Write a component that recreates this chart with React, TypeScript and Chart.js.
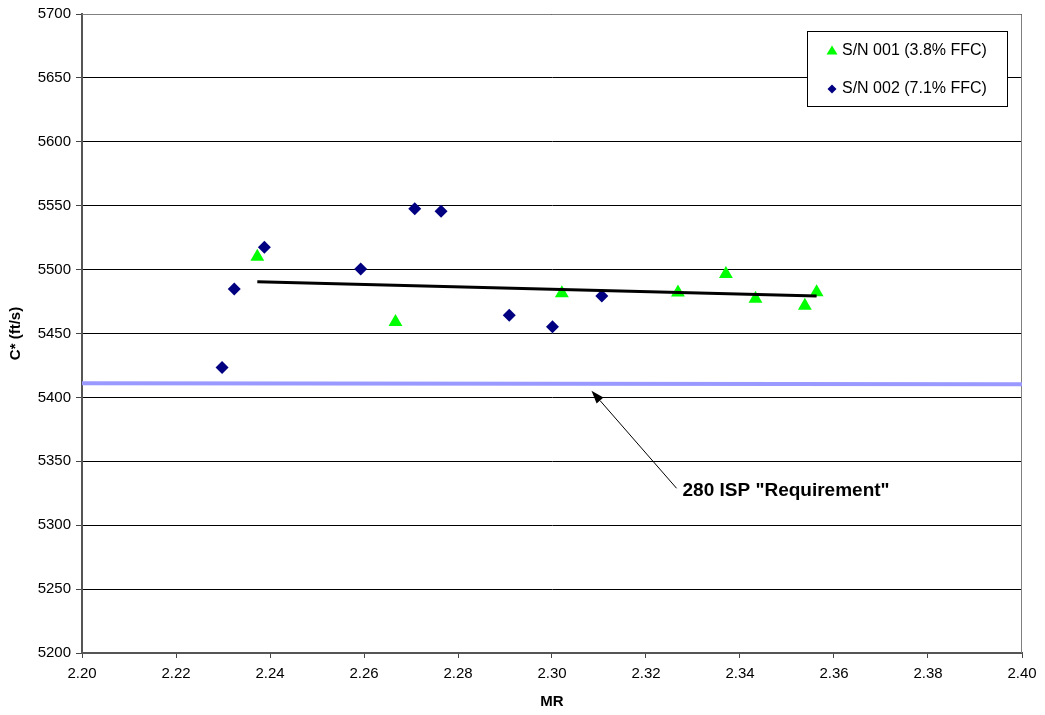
import React, { useEffect, useRef } from "react";
import { Chart, registerables } from "chart.js";

Chart.register(...registerables);

// S/N 001 (3.8% FFC) — green triangles
const sn001MR = [2.2373, 2.2667, 2.3021, 2.3268, 2.337, 2.3433, 2.3538, 2.3563];
const sn001Cstar = [5510, 5459, 5481.5, 5482, 5496.6, 5477.2, 5471.8, 5482.2];

// S/N 002 (7.1% FFC) — navy diamonds
const sn002MR = [2.2298, 2.2324, 2.2388, 2.2593, 2.2708, 2.2764, 2.2909, 2.3001, 2.3106];
const sn002Cstar = [5423.3, 5484.8, 5517.4, 5500.5, 5547.7, 5545.6, 5464.2, 5455.3, 5479.3];

// Trend line end points
const trendMR = [2.2373, 2.3563];
const trendCstar = [5490.5, 5479.3];

// 280 ISP requirement line
const reqMR = [2.2, 2.4];
const reqCstar = [5411, 5410.3];

// Annotation arrow (data coords): tip, tail
const arrowMR = [2.3084, 2.3265];
const arrowCstar = [5405.2, 5328.9];
const annotationText = '280 ISP "Requirement"';

const seriesLabels = ["S/N 001 (3.8% FFC)", "S/N 002 (7.1% FFC)"];
const xTitle = "MR";
const yTitle = "C* (ft/s)";

const FONT = "Arial, 'Liberation Sans', sans-serif";

const toPts = (xs: number[], ys: number[]) => xs.map((x, i) => ({ x, y: ys[i] }));

export default function App() {
  const ref = useRef<HTMLCanvasElement | null>(null);

  useEffect(() => {
    if (!ref.current) return;

    const frame = {
      id: "frame",
      beforeDatasetsDraw(chart: any) {
        const { ctx, chartArea: a } = chart;
        ctx.save();
        ctx.strokeStyle = "#808080";
        ctx.lineWidth = 1;
        ctx.beginPath();
        ctx.moveTo(a.left, a.top + 0.5);
        ctx.lineTo(a.right - 0.5, a.top + 0.5);
        ctx.lineTo(a.right - 0.5, a.bottom);
        ctx.stroke();
        ctx.restore();
      },
    };

    const extras = {
      id: "extras",
      afterDraw(chart: any) {
        const { ctx } = chart;
        const xs = chart.scales.x;
        const ys = chart.scales.y;
        ctx.save();
        // arrow
        const tx = xs.getPixelForValue(arrowMR[0]);
        const ty = ys.getPixelForValue(arrowCstar[0]);
        const fx = xs.getPixelForValue(arrowMR[1]);
        const fy = ys.getPixelForValue(arrowCstar[1]);
        const ang = Math.atan2(ty - fy, tx - fx);
        const hl = 13;
        const hw = 4.5;
        const bx = tx - Math.cos(ang) * hl;
        const by = ty - Math.sin(ang) * hl;
        ctx.strokeStyle = "#000";
        ctx.lineWidth = 1;
        ctx.beginPath();
        ctx.moveTo(fx, fy);
        ctx.lineTo(bx, by);
        ctx.stroke();
        ctx.fillStyle = "#000";
        ctx.beginPath();
        ctx.moveTo(tx, ty);
        ctx.lineTo(bx + Math.sin(ang) * hw, by - Math.cos(ang) * hw);
        ctx.lineTo(bx - Math.sin(ang) * hw, by + Math.cos(ang) * hw);
        ctx.closePath();
        ctx.fill();
        // annotation text
        ctx.font = `bold 19px ${FONT}`;
        ctx.textAlign = "left";
        ctx.textBaseline = "middle";
        ctx.fillText(annotationText, fx + 6, fy + 2);

        // legend box
        const lx = 807.5, ly = 31.5, lw = 200, lh = 75;
        ctx.fillStyle = "#fff";
        ctx.fillRect(lx, ly, lw, lh);
        ctx.strokeStyle = "#000";
        ctx.lineWidth = 1;
        ctx.strokeRect(lx, ly, lw, lh);
        ctx.font = `16px ${FONT}`;
        ctx.fillStyle = "#000";
        ctx.textBaseline = "middle";
        const labels = chart.data.datasets.slice(0, 2).map((d: any) => d.label);
        // triangle
        ctx.fillStyle = "#00FF00";
        ctx.beginPath();
        ctx.moveTo(832, 45.5);
        ctx.lineTo(837.5, 54.5);
        ctx.lineTo(826.5, 54.5);
        ctx.closePath();
        ctx.fill();
        ctx.fillStyle = "#000";
        ctx.fillText(labels[0], 842, 51);
        // diamond
        ctx.fillStyle = "#000080";
        ctx.beginPath();
        ctx.moveTo(832, 84.5);
        ctx.lineTo(836.5, 89);
        ctx.lineTo(832, 93.5);
        ctx.lineTo(827.5, 89);
        ctx.closePath();
        ctx.fill();
        ctx.fillStyle = "#000";
        ctx.fillText(labels[1], 842, 89);
        ctx.restore();
      },
    };

    const chart = new Chart(ref.current, {
      type: "scatter",
      data: {
        datasets: [
          {
            label: seriesLabels[0],
            data: toPts(sn001MR, sn001Cstar),
            pointStyle: "triangle",
            pointRadius: 8,
            backgroundColor: "#00FF00",
            borderColor: "#00FF00",
            borderWidth: 0,
            order: 2,
          },
          {
            label: seriesLabels[1],
            data: toPts(sn002MR, sn002Cstar),
            pointStyle: "rectRot",
            pointRadius: 6.5,
            backgroundColor: "#000080",
            borderColor: "#000080",
            borderWidth: 0,
            order: 2,
          },
          {
            label: "Trend",
            type: "line",
            data: toPts(trendMR, trendCstar),
            borderColor: "#000",
            borderWidth: 3,
            pointRadius: 0,
            showLine: true,
            order: 1,
          } as any,
          {
            label: "Requirement",
            type: "line",
            data: toPts(reqMR, reqCstar),
            borderColor: "#9999FF",
            borderWidth: 4,
            pointRadius: 0,
            showLine: true,
            order: 3,
          } as any,
        ],
      },
      options: {
        animation: false,
        responsive: false,
        maintainAspectRatio: false,
        layout: { padding: { top: 14, right: 23, left: 0, bottom: 0 } },
        plugins: {
          legend: { display: false },
          tooltip: { enabled: false },
        },
        scales: {
          x: {
            type: "linear",
            min: 2.2,
            max: 2.4,
            afterFit: (s: any) => {
              s.height = 62;
            },
            ticks: {
              stepSize: 0.02,
              color: "#000",
              font: { family: FONT, size: 15 },
              padding: 7,
              maxRotation: 0,
              callback: (v: any) => Number(v).toFixed(2),
            },
            grid: {
              drawOnChartArea: false,
              drawTicks: true,
              tickLength: 5,
              tickColor: "#444",
              tickWidth: 1,
            },
            border: { color: "#555", width: 2 },
            title: {
              display: true,
              text: xTitle,
              color: "#000",
              font: { family: FONT, size: 15, weight: "bold" },
              padding: { top: 0, bottom: 4 },
            },
          },
          y: {
            type: "linear",
            min: 5200,
            max: 5700,
            afterFit: (s: any) => {
              s.width = 82;
            },
            ticks: {
              stepSize: 50,
              color: "#000",
              font: { family: FONT, size: 15 },
              padding: 5,
              callback: (v: any) => String(v),
            },
            grid: {
              color: "#000",
              lineWidth: 1,
              drawTicks: true,
              tickLength: 6,
              tickColor: "#444",
            },
            border: { color: "#555", width: 2 },
            title: {
              display: true,
              text: yTitle,
              color: "#000",
              font: { family: FONT, size: 15, weight: "bold" },
              padding: { top: 7, bottom: 0 },
            },
          },
        },
      },
      plugins: [frame, extras],
    });

    return () => chart.destroy();
  }, []);

  return (
    <div style={{ position: "absolute", left: 0, top: 0, width: 1045, height: 715, background: "#fff" }}>
      <canvas ref={ref} width={1045} height={715} style={{ width: 1045, height: 715, display: "block" }} />
    </div>
  );
}
